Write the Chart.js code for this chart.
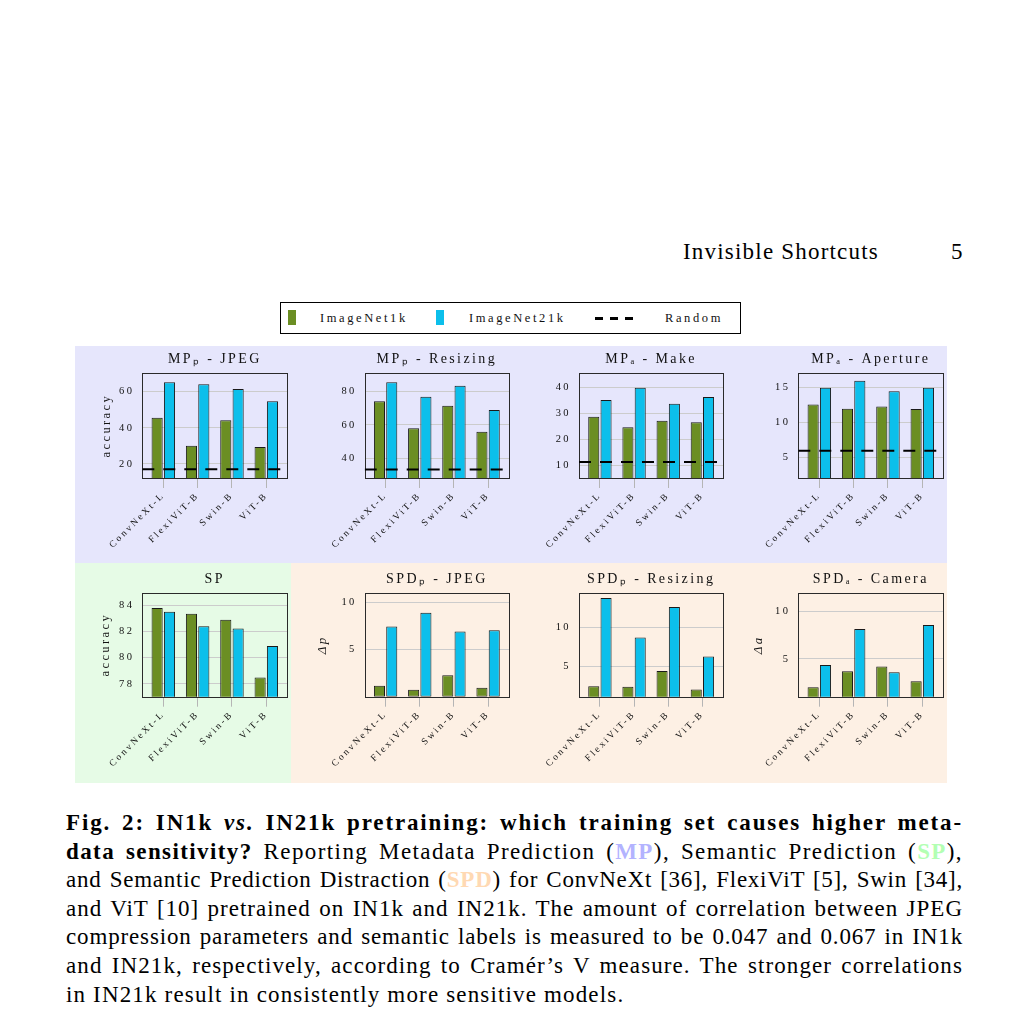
<!DOCTYPE html>
<html><head><meta charset="utf-8">
<script src="https://cdn.jsdelivr.net/npm/chart.js@4.4.1/dist/chart.umd.min.js"></script>
<style>
html,body{margin:0;padding:0;background:#fff;}
body{width:1030px;height:1019px;position:relative;overflow:hidden;font-family:"Liberation Serif",serif;color:#000;}
canvas{position:absolute;}
.t{position:absolute;font-size:23px;letter-spacing:1.2px;line-height:28.6px;white-space:pre;}
.cap{position:absolute;left:66px;width:897px;font-size:23px;line-height:28.6px;text-align:justify;text-align-last:justify;}
.cap.last{text-align:left;text-align-last:left;}
#legend{position:absolute;left:280px;top:302px;width:459px;height:30px;border:1px solid #000;font-family:"Liberation Serif",serif;font-size:12.5px;letter-spacing:2.6px;color:#111;}
#legend div{position:absolute;}
#legend .lt{top:0;line-height:30px;}
</style></head>
<body>
<div class="t" style="left:683px;top:238px;">Invisible Shortcuts</div>
<div class="t" style="left:951px;top:238px;">5</div>

<div id="legend">
  <div style="left:7px;top:7px;width:8px;height:15px;background:#6b8e23;"></div>
  <div class="lt" style="left:39px;">ImageNet1k</div>
  <div style="left:155px;top:7px;width:8px;height:15px;background:#0cbfeb;"></div>
  <div class="lt" style="left:188px;">ImageNet21k</div>
  <div style="left:314px;top:14px;width:8px;height:3px;background:#000;"></div>
  <div style="left:329px;top:14px;width:8px;height:3px;background:#000;"></div>
  <div style="left:344px;top:14px;width:8px;height:3px;background:#000;"></div>
  <div class="lt" style="left:384px;">Random</div>
</div>

<div class="cap" style="top:809px;"><b>Fig. 2: IN1k <i>vs.</i> IN21k pretraining: which training set causes higher meta-</b></div>
<div class="cap" style="top:837.6px;"><b>data sensitivity?</b> Reporting Metadata Prediction (<b style="color:#b3b3ff">MP</b>), Semantic Prediction (<b style="color:#b3ffb3">SP</b>),</div>
<div class="cap" style="top:866.2px;">and Semantic Prediction Distraction (<b style="color:#ffd9b3">SPD</b>) for ConvNeXt [36], FlexiViT [5], Swin [34],</div>
<div class="cap" style="top:894.8px;">and ViT [10] pretrained on IN1k and IN21k. The amount of correlation between JPEG</div>
<div class="cap" style="top:923.4px;">compression parameters and semantic labels is measured to be 0.047 and 0.067 in IN1k</div>
<div class="cap" style="top:952px;">and IN21k, respectively, according to Cramér’s V measure. The stronger correlations</div>
<div class="cap last" style="top:980.6px;">in IN21k result in consistently more sensitive models.</div>

<script>
// ---------------- data ----------------
const categories = ['ConvNeXt-L', 'FlexiViT-B', 'Swin-B', 'ViT-B'];
const seriesNames = ['ImageNet1k', 'ImageNet21k', 'Random'];
const panelTitles = ['MPₚ - JPEG', 'MPₚ - Resizing', 'MPₐ - Make', 'MPₐ - Aperture',
                     'SP', 'SPDₚ - JPEG', 'SPDₚ - Resizing', 'SPDₐ - Camera'];
const yAxisTitles = ['accuracy', '', '', '', 'accuracy', 'Δp', '', 'Δa'];

const in1k_MPp_JPEG      = [45.6, 30.0, 44.2, 29.4];
const in21k_MPp_JPEG     = [65.2, 64.1, 61.5, 54.7];
const in1k_MPp_Resizing  = [74.2, 58.0, 71.6, 56.0];
const in21k_MPp_Resizing = [85.6, 77.0, 83.6, 69.0];
const in1k_MPa_Make      = [28.6, 24.5, 27.0, 26.5];
const in21k_MPa_Make     = [35.0, 39.7, 33.6, 36.2];
const in1k_MPa_Aperture  = [12.6, 12.0, 12.3, 11.95];
const in21k_MPa_Aperture = [15.0, 16.0, 14.5, 15.0];
const in1k_SP            = [83.8, 83.35, 82.9, 78.5];
const in21k_SP           = [83.5, 82.4, 82.23, 80.9];
const in1k_SPDp_JPEG     = [1.16, 0.74, 2.26, 0.95];
const in21k_SPDp_JPEG    = [7.43, 8.87, 6.9, 7.04];
const in1k_SPDp_Resizing = [2.37, 2.33, 4.35, 1.96];
const in21k_SPDp_Resizing= [13.8, 8.7, 12.66, 6.25];
const in1k_SPDa_Camera   = [2.03, 3.7, 4.2, 2.65];
const in21k_SPDa_Camera  = [4.37, 8.14, 3.6, 8.55];

const randomLevels = [17.0, 33.3, 11.2, 6.0, null, null, null, null];

const yTicks_MPp_JPEG      = [20, 40, 60];
const yTicks_MPp_Resizing  = [40, 60, 80];
const yTicks_MPa_Make      = [10, 20, 30, 40];
const yTicks_MPa_Aperture  = [5, 10, 15];
const yTicks_SP            = [78, 80, 82, 84];
const yTicks_SPDp_JPEG     = [5, 10];
const yTicks_SPDp_Resizing = [5, 10];
const yTicks_SPDa_Camera   = [5, 10];

const yMins = [12.2, 28.2, 5.0, 2.1, 77.03, 0, 1.03, 1.04];
const yMaxs = [70.2, 91.0, 45.3, 17.06, 84.96, 11.0, 14.5, 11.95];
// x range: categories sit at 0..3, axis enlarged a little beyond the outer groups
const xMin = -0.612, xMax = 3.612;

const in1kSeries  = [in1k_MPp_JPEG, in1k_MPp_Resizing, in1k_MPa_Make, in1k_MPa_Aperture,
                     in1k_SP, in1k_SPDp_JPEG, in1k_SPDp_Resizing, in1k_SPDa_Camera];
const in21kSeries = [in21k_MPp_JPEG, in21k_MPp_Resizing, in21k_MPa_Make, in21k_MPa_Aperture,
                     in21k_SP, in21k_SPDp_JPEG, in21k_SPDp_Resizing, in21k_SPDa_Camera];
const yTickSets   = [yTicks_MPp_JPEG, yTicks_MPp_Resizing, yTicks_MPa_Make, yTicks_MPa_Aperture,
                     yTicks_SP, yTicks_SPDp_JPEG, yTicks_SPDp_Resizing, yTicks_SPDa_Camera];

// ---------------- layout / style ----------------
const COLORS = { in1k: '#6b8e23', in21k: '#0cbfeb', random: '#000000' };
const colEdges = [75, 291, 512, 727, 947];
const rowEdges = [346, 563, 783];
const plotLefts = [142.3, 364.7, 579, 798.3];
const plotRights = [287.3, 509, 723.3, 943.3];
const plotTops = [373.3, 592.7];
const plotBottoms = [478, 696.7];
const titleCenters = [359, 579];
const Y_W = 52;
const yTitleOffsets = [16.4, 0, 0, 0, 15.4, 10.3, 0, 12];
const panelBgs = ['#e6e6fc', '#e6e6fc', '#e6e6fc', '#e6e6fc', '#e6fbe6', '#fdf0e4', '#fdf0e4', '#fdf0e4'];
const FONT = '"Liberation Serif", serif';
const SPACING = '2.4px';

const spacingPlugin = {
  id: 'spacing',
  beforeUpdate(c) { c.ctx.letterSpacing = SPACING; },
  beforeLayout(c) { c.ctx.letterSpacing = SPACING; },
  beforeDraw(c) { c.ctx.letterSpacing = SPACING; }
};
const framePlugin = {
  id: 'frame',
  afterDatasetsDraw(c) {
    const a = c.chartArea, ctx = c.ctx;
    ctx.save();
    ctx.strokeStyle = '#2a2a2a';
    ctx.lineWidth = 1;
    ctx.strokeRect(Math.round(a.left) + 0.5, Math.round(a.top) + 0.5,
                   Math.round(a.right - a.left), Math.round(a.bottom - a.top));
    ctx.restore();
  }
};
// Random baseline: a horizontal reference level mapped through the chart's y scale
const randomLinePlugin = {
  id: 'randomLine',
  afterDatasetsDraw(c, args, opts) {
    if (opts.value === null || opts.value === undefined) return;
    const a = c.chartArea, ctx = c.ctx;
    const y = c.scales.y.getPixelForValue(opts.value);
    ctx.save();
    ctx.beginPath();
    ctx.rect(a.left, a.top, a.right - a.left, a.bottom - a.top);
    ctx.clip();
    ctx.strokeStyle = opts.color;
    ctx.lineWidth = 2;
    ctx.setLineDash([12, 9]);
    ctx.beginPath();
    ctx.moveTo(a.left, y);
    ctx.lineTo(a.right, y);
    ctx.stroke();
    ctx.restore();
  }
};

for (let i = 0; i < 8; i++) {
  const col = i % 4, row = Math.floor(i / 4);
  const left = colEdges[col], width = colEdges[col + 1] - colEdges[col];
  const top = rowEdges[row], height = rowEdges[row + 1] - rowEdges[row];
  const cv = document.createElement('canvas');
  cv.width = width; cv.height = height;
  cv.style.left = left + 'px'; cv.style.top = top + 'px';
  cv.style.width = width + 'px'; cv.style.height = height + 'px';
  cv.style.background = panelBgs[i];
  document.body.appendChild(cv);

  const titleSize = 14;
  const tPadTop = titleCenters[row] - top - titleSize / 2;
  const tPadBottom = (plotTops[row] - top) - tPadTop - titleSize;
  const xH = rowEdges[row + 1] - plotBottoms[row];
  const hasYTitle = yAxisTitles[i] !== '';
  const yTitleSize = yAxisTitles[i] === 'accuracy' ? 12.5 : 13;

  const ticksArr = yTickSets[i];
  const toPoints = arr => arr.map((v, k) => ({ x: k, y: v }));
  new Chart(cv, {
    type: 'bar',
    data: {
      datasets: [
        { label: seriesNames[0], data: toPoints(in1kSeries[i]),
          backgroundColor: COLORS.in1k, borderColor: '#1a1a1a', borderWidth: 1,
          borderSkipped: false, categoryPercentage: 0.72, barPercentage: 0.9 },
        { label: seriesNames[1], data: toPoints(in21kSeries[i]),
          backgroundColor: COLORS.in21k, borderColor: '#1a1a1a', borderWidth: 1,
          borderSkipped: false, categoryPercentage: 0.72, barPercentage: 0.9 }
      ]
    },
    plugins: [spacingPlugin, framePlugin, randomLinePlugin],
    options: {
      responsive: false, animation: false, devicePixelRatio: 1,
      layout: {
        autoPadding: false,
        padding: { left: plotLefts[col] - left - Y_W, right: colEdges[col + 1] - plotRights[col], top: 0, bottom: 0 }
      },
      plugins: {
        legend: { display: false }, tooltip: { enabled: false },
        randomLine: { value: randomLevels[i], color: COLORS.random },
        title: {
          display: true, fullSize: false, text: panelTitles[i], color: '#111',
          font: { family: FONT, size: titleSize, weight: 'normal', lineHeight: 1 },
          padding: { top: tPadTop, bottom: tPadBottom }
        }
      },
      scales: {
        x: {
          type: 'linear', min: xMin, max: xMax, offset: false,
          grid: { offset: false, drawOnChartArea: false, drawTicks: true, tickLength: 10, color: '#b5b5b5', tickColor: '#b5b5b5' },
          border: { display: false },
          afterBuildTicks: s => { s.ticks = categories.map((c, k) => ({ value: k })); },
          ticks: { autoSkip: false, maxRotation: 45, minRotation: 45, padding: 2, color: '#111',
                   font: { family: FONT, size: 9.5 }, callback: v => categories[v] },
          afterFit: s => { s.height = xH; }
        },
        y: {
          type: 'linear', min: yMins[i], max: yMaxs[i],
          grid: { color: '#cccccc', drawTicks: false },
          border: { display: false },
          ticks: { padding: 8, color: '#111', font: { family: FONT, size: 10.5 } },
          afterBuildTicks: s => { s.ticks = ticksArr.map(v => ({ value: v })); },
          title: {
            display: hasYTitle, text: yAxisTitles[i], color: '#111',
            font: { family: FONT, size: yTitleSize, style: yAxisTitles[i] === 'accuracy' ? 'normal' : 'italic' },
            padding: { top: yTitleOffsets[i] - yTitleSize * 0.6, bottom: 0 }
          },
          afterFit: s => { s.width = Y_W; }
        }
      }
    }
  });
}

// caption: spread most of the justification slack into letter spacing (wider serif look)
(function () {
  const lines = Array.from(document.querySelectorAll('.cap'));
  const spacings = [];
  lines.forEach(el => {
    if (el.classList.contains('last')) return;
    const probe = el.cloneNode(true);
    probe.style.width = 'auto';
    probe.style.whiteSpace = 'nowrap';
    probe.style.textAlign = 'left';
    probe.style.textAlignLast = 'left';
    probe.style.visibility = 'hidden';
    document.body.appendChild(probe);
    const w = probe.getBoundingClientRect().width;
    const n = el.textContent.length;
    document.body.removeChild(probe);
    const ls = Math.max(0, (897 - w) / n * 0.8 - 0.02);
    spacings.push(ls);
    el.style.letterSpacing = ls.toFixed(3) + 'px';
  });
  const avg = spacings.reduce((s, v) => s + v, 0) / spacings.length;
  document.querySelector('.cap.last').style.letterSpacing = avg.toFixed(3) + 'px';
})();
</script>
</body></html>
